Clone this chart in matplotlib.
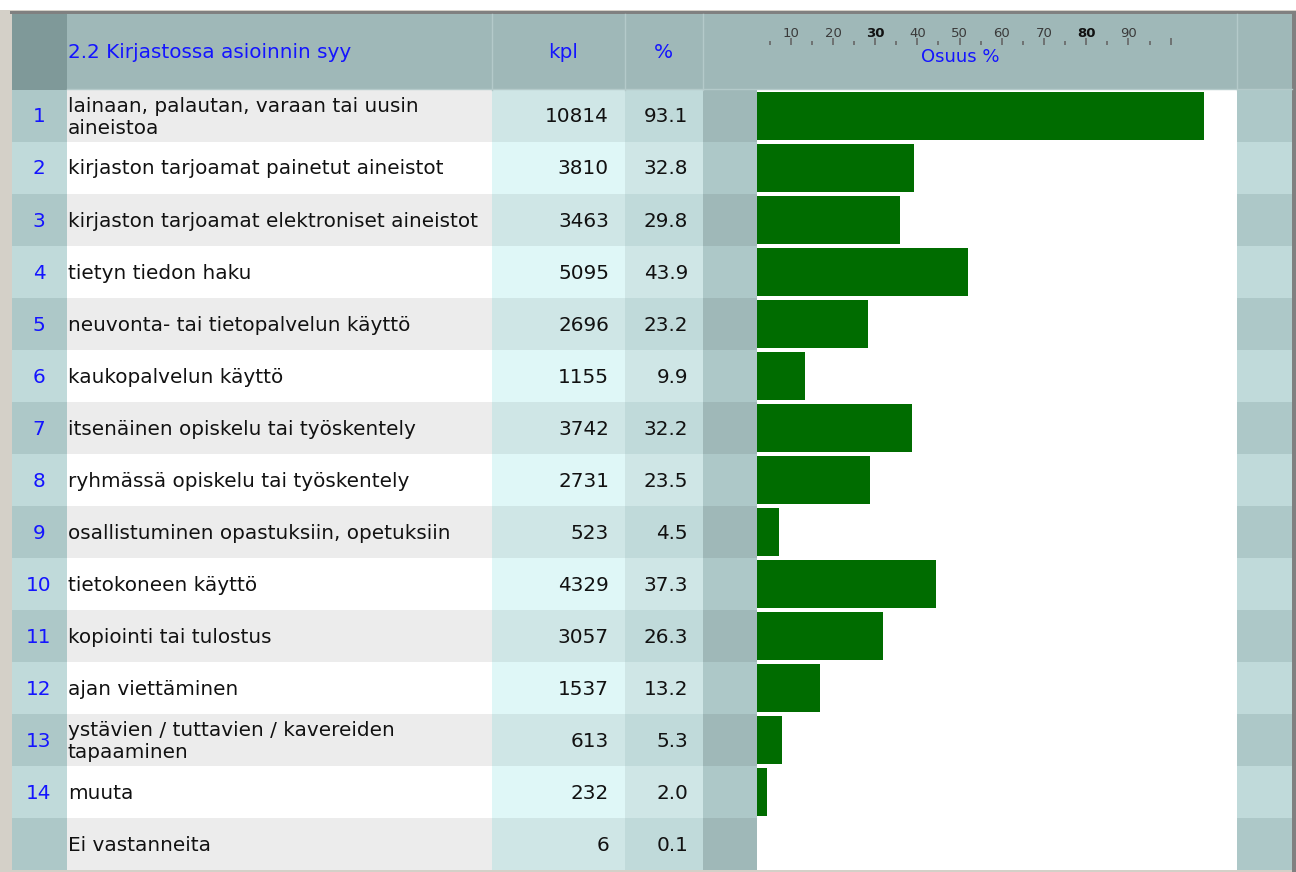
import matplotlib.pyplot as plt
from matplotlib.patches import Rectangle

# Data
title = '2.2 Kirjastossa asioinnin syy'
row_ids = ['1', '2', '3', '4', '5', '6', '7', '8', '9', '10', '11', '12', '13', '14', '']
labels = ['lainaan, palautan, varaan tai uusin\naineistoa',
          'kirjaston tarjoamat painetut aineistot',
          'kirjaston tarjoamat elektroniset aineistot',
          'tietyn tiedon haku',
          'neuvonta- tai tietopalvelun käyttö',
          'kaukopalvelun käyttö',
          'itsenäinen opiskelu tai työskentely',
          'ryhmässä opiskelu tai työskentely',
          'osallistuminen opastuksiin, opetuksiin',
          'tietokoneen käyttö',
          'kopiointi tai tulostus',
          'ajan viettäminen',
          'ystävien / tuttavien / kavereiden\ntapaaminen',
          'muuta',
          'Ei vastanneita']
counts = [10814, 3810, 3463, 5095, 2696, 1155, 3742, 2731, 523, 4329, 3057, 1537, 613, 232, 6]
shares = [93.1, 32.8, 29.8, 43.9, 23.2, 9.9, 32.2, 23.5, 4.5, 37.3, 26.3, 13.2, 5.3, 2.0, 0.1]
scale_ticks = [10, 20, 30, 40, 50, 60, 70, 80, 90, 100]
n_answer_rows = 14  # last row (no answer) has no bar

W, H = 1296, 872
fig = plt.figure(figsize=(W / 100, H / 100), dpi=100, facecolor='#d4d0c8')

# background axes in pixel units
bg = fig.add_axes([0, 0, 1, 1])
bg.set_xlim(0, W)
bg.set_ylim(H, 0)
bg.axis('off')

def box(x0, y0, x1, y1, color, z=1):
    bg.add_patch(Rectangle((x0, y0), x1 - x0, y1 - y0, facecolor=color, edgecolor='none', zorder=z))

# outer frame
box(0, 0, W, 10, '#ffffff')
box(10, 11, W, 14, '#808080')
box(1292, 11, W, H, '#808080')

cols = [12, 67, 492, 625, 703, 757, 1237, 1292]
head_top, head_bot = 14, 90
row_h = 52

# header
box(cols[0], head_top, cols[1], head_bot, '#7f9999')
box(cols[1], head_top, cols[-1], head_bot, '#9fb8b8')
for x in [492, 625, 703, 1237]:
    bg.plot([x, x], [head_top, head_bot], color='#b4caca', lw=1, zorder=2)
bg.plot([cols[1], cols[-1]], [head_bot - 0.5, head_bot - 0.5], color='#b4caca', lw=1, zorder=2)

odd = ['#adc8c8', '#ececec', '#cfe6e6', '#c0dada', '#9fb8b8', '#ffffff', '#adc8c8']
even = ['#c0dada', '#ffffff', '#dff7f7', '#cfe6e6', '#adc8c8', '#ffffff', '#c0dada']

fs = 14.4
blue = '#1414ff'
for i in range(len(labels)):
    y0 = head_bot + i * row_h
    pal = odd if i % 2 == 0 else even
    for j in range(7):
        box(cols[j], y0, cols[j + 1], y0 + row_h, pal[j])
    yc = y0 + row_h / 2 + 1
    bg.text(39, yc, row_ids[i], ha='center', va='center', color=blue, fontsize=fs, zorder=3)
    bg.text(68, yc, labels[i], ha='left', va='center', color='#111111', fontsize=fs,
            linespacing=1.2, zorder=3)
    bg.text(609, yc, str(counts[i]), ha='right', va='center', color='#111111', fontsize=fs, zorder=3)
    bg.text(688, yc, f'{shares[i]:.1f}', ha='right', va='center', color='#111111', fontsize=fs, zorder=3)

bg.text(68, 53, title, ha='left', va='center', color=blue, fontsize=fs, zorder=3)
bg.text(563, 53, 'kpl', ha='center', va='center', color=blue, fontsize=fs, zorder=3)
bg.text(663, 53, '%', ha='center', va='center', color=blue, fontsize=fs, zorder=3)
bg.text(960, 57, 'Osuus %', ha='center', va='center', color=blue, fontsize=13, zorder=3)

# bar chart axes
x0, x1 = cols[5], cols[6]
y_top, y_bot = head_bot, head_bot + row_h * len(labels)
ax = fig.add_axes([x0 / W, 1 - y_bot / H, (x1 - x0) / W, (y_bot - y_top) / H])
ax.patch.set_alpha(0)
ax.barh(range(n_answer_rows), shares[:n_answer_rows], height=0.94, left=0,
        color='#006c00', edgecolor='none')
ax.set_xlim(0, 100)
ax.set_ylim(len(labels) - 0.5, -0.5)
ax.axis('off')

# header scale axes (drawn offset, as in the original)
sx0, sx1 = 748.5, 1170.7
sy = 45
sc = fig.add_axes([sx0 / W, 1 - sy / H - 0.001, (sx1 - sx0) / W, 0.001])
sc.patch.set_alpha(0)
for s in sc.spines.values():
    s.set_visible(False)
sc.set_xlim(0, 100)
sc.set_yticks([])
sc.set_xticks(scale_ticks)
sc.set_xticklabels([str(v) if v < 100 else '' for v in scale_ticks])
sc.set_xticks([v - 5 for v in scale_ticks], minor=True)
sc.tick_params(axis='x', which='both', top=True, labeltop=True, bottom=False, labelbottom=False,
               color='#666666', labelcolor='#3a3a3a', labelsize=9.5, pad=-1.5)
sc.tick_params(axis='x', which='major', length=5, width=1.2)
sc.tick_params(axis='x', which='minor', length=3, width=1.2)
for lbl in sc.get_xticklabels():
    if lbl.get_text() in ('30', '80'):
        lbl.set_fontweight('bold')
        lbl.set_color('#111111')

fig.savefig('out.png', dpi=100, facecolor=fig.get_facecolor())
